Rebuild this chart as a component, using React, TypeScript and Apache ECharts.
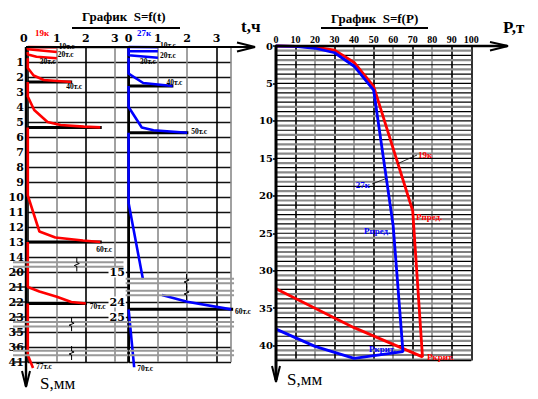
import React, { useEffect, useRef } from "react";
import * as echarts from "echarts";

// ================= S = f(t) =================
// broken settlement axis: row index -> settlement value (mm)
const ROW_IDX_19K = [0, 1, 2, 3, 4, 5, 6, 7, 8, 9, 10, 11, 12, 13, 14, 15, 16, 17, 18, 19, 20, 21];
const ROW_S_19K = [0, 1, 2, 3, 4, 5, 6, 7, 8, 9, 10, 11, 12, 13, 14, 20, 21, 22, 23, 35, 36, 41];
const ROW_IDX_27K = [0, 1, 2, 3, 4, 5, 6, 7, 8, 9, 10, 11, 12, 13, 14, 15, 17, 18, 19, 20, 21];
const ROW_S_27K = [0, 1, 2, 3, 4, 5, 6, 7, 8, 9, 10, 11, 12, 13, 14, 15, 24, 25, 35, 36, 41];
const SHOWN_S_27K = [15, 24, 25];

// pile 19к : load stages, time (h) and settlement (mm)
const LOADS_19K = ["10т.с", "20т.с", "30т.с", "40т.с", "50т.с", "60т.с", "70т.с", "77т.с"];
const T_19K: number[][] = [
  [0, 1],
  [0, 0, 1],
  [0, 0, 0.3, 1],
  [0, 0, 0.2, 0.55, 1.5],
  [0, 0, 0.22, 0.68, 1.13, 1.93, 2.5],
  [0, 0, 0.4, 0.95, 1.9, 2.5],
  [0, 0, 0.4, 1.0, 1.5, 2.0],
  [0, 0, 0.18],
];
const S_19K: number[][] = [
  [0, 0.02],
  [0.02, 0.15, 0.33],
  [0.33, 0.5, 0.65, 0.75],
  [0.75, 1.4, 1.9, 2.2, 2.33],
  [2.33, 3.3, 4.2, 5.0, 5.2, 5.31, 5.36],
  [5.36, 9.9, 12.3, 12.7, 12.9, 13.0],
  [13.0, 21.0, 21.3, 21.65, 22.0, 22.1],
  [22.1, 38.7, 41.4],
];
const HAS_LOADLINE_19K = [false, false, false, true, true, true, true, false];

// pile 27к
const LOADS_27K = ["10т.с", "20т.с", "30т.с", "40т.с", "50т.с", "60т.с", "70т.с"];
const T_27K: (number | null)[][] = [
  [0, 1],
  [0, 0, 1],
  [0, 0, 1],
  [0, 0, 0.5, 1.5],
  [0, 0, 0.45, 0.85, 2],
  [0, 0, 0.49, null, 1.14, 2, 3.5],
  [0, 0.19],
];
const S_27K: (number | null)[][] = [
  [0, 0.02],
  [0.02, 0.28, 0.28],
  [0.28, 0.55, 0.72],
  [0.72, 1.78, 2.4, 2.6],
  [2.6, 4.0, 5.37, 5.55, 5.72],
  [5.72, 10.4, 17.2, null, 21.9, 23.9, 24.49],
  [24.49, 41.35],
];
const HAS_LOADLINE_27K = [false, false, false, true, true, true, false];

// ================= S = f(P) =================
const P_19K = [0, 10, 20, 30, 40, 50, 70, 75, 40, 0];
const SP_19K = [0, 0.05, 0.15, 0.55, 2.2, 5.4, 22, 41.5, 37.6, 32.4];
const P_27K = [0, 10, 20, 30, 40, 50, 60, 65, 40, 20, 0];
const SP_27K = [0, 0.05, 0.3, 0.9, 2.7, 5.9, 24, 40.8, 41.7, 40.1, 37.8];

// ---------- styles / layout ----------
const SERIF = "'Liberation Serif', 'DejaVu Serif', serif";
const DJ = "'DejaVu Serif', 'Liberation Serif', serif";
const RED = "#ff0000";
const BLUE = "#0000ff";
const GRID_STEP_P = 0.625; // spacing of the fine horizontal grid of S=f(P), mm
const LABEL_OFF_19K: ([number, number] | null)[] = [[2, -1], [1, 3], [-17, 3], [-5, 5], null, [-4, 7], [4, 3], [3, -2]];
const LABEL_OFF_27K: ([number, number] | null)[] = [[2, -2], [2, 4], [-18, 4], [-6, -4], [4, -1], [4, 2], [3, 1]];

function makeRowMap(rows: number[], vals: number[]) {
  return (s: number) => {
    const n = vals.length;
    if (s >= vals[n - 1]) return rows[n - 1] + (s - vals[n - 1]);
    for (let i = 0; i < n - 1; i++) {
      if (s <= vals[i + 1]) return rows[i] + ((s - vals[i]) / (vals[i + 1] - vals[i])) * (rows[i + 1] - rows[i]);
    }
    return 0;
  };
}
const row19 = makeRowMap(ROW_IDX_19K, ROW_S_19K);
const row27 = makeRowMap(ROW_IDX_27K, ROW_S_27K);

function stageSeries(
  T: (number | null)[][], S: (number | null)[][], loads: string[], rowFn: (s: number) => number,
  axis: number, color: string, offs: ([number, number] | null)[], loadLine: boolean[]
) {
  const out: any[] = [];
  T.forEach((ts, k) => {
    const ss = S[k];
    const segs: number[][][] = [[]];
    ts.forEach((t, i) => {
      if (t === null || ss[i] === null) { segs.push([]); return; }
      segs[segs.length - 1].push([t as number, rowFn(ss[i] as number)]);
    });
    const lastT = ts[ts.length - 1] as number;
    const lastS = ss[ss.length - 1] as number;
    if (loadLine[k]) {
      out.push({
        type: "line", xAxisIndex: axis, yAxisIndex: axis, symbol: "none", silent: true, clip: false, z: 3,
        data: [[0, rowFn(lastS)], [lastT * 1.02, rowFn(lastS)]],
        lineStyle: { color: "#000", width: 3 },
      });
    }
    segs.forEach((seg, j) => {
      const isLast = j === segs.length - 1;
      const off = offs[k];
      out.push({
        type: "line", xAxisIndex: axis, yAxisIndex: axis, symbol: "none", silent: true, clip: false, z: 4,
        data: seg,
        lineStyle: { color, width: 2.6 },
        endLabel: isLast && off ? {
          show: true, formatter: loads[k], offset: off, distance: 0, color: "#000",
          fontSize: 7.5, fontWeight: "bold", fontFamily: SERIF,
        } : { show: false },
      });
    });
  });
  return out;
}

function breakSeries(axis: number, data: number[][]) {
  return {
    type: "custom", xAxisIndex: axis, yAxisIndex: axis, silent: true, z: 5, clip: false,
    data,
    renderItem: (_p: any, api: any) => {
      const row = api.value(0), t0 = api.value(1), t1 = api.value(2), tz = api.value(3);
      const a = api.coord([t0, row]);
      const b = api.coord([t1, row]);
      const d = 2.3;
      const children: any[] = [
        { type: "line", shape: { x1: a[0], y1: a[1] - d, x2: b[0], y2: b[1] - d }, style: { stroke: "#999", lineWidth: 2 } },
        { type: "line", shape: { x1: a[0], y1: a[1] + d, x2: b[0], y2: b[1] + d }, style: { stroke: "#999", lineWidth: 2 } },
      ];
      if (tz >= 0) {
        const z = api.coord([tz, row]);
        const x = z[0], y = z[1];
        children.push({
          type: "polyline",
          shape: { points: [[x, y - 7], [x, y - 2], [x + 2.5, y - 1], [x - 2.5, y + 1], [x, y + 2], [x, y + 7]] },
          style: { stroke: "#000", lineWidth: 1, fill: "none" },
        });
      }
      return { type: "group", children };
    },
  };
}

function buildOption(): any {
  const X19_MAX = 3.455;
  const X27_MAX = 3.5;
  const S_MAX_P = 42;
  const rowsLeftExt = ROW_IDX_19K.filter((r) => r >= 15).map((r) => [r]);
  const fineLines: number[][] = [];
  for (let k = 1; k * GRID_STEP_P < S_MAX_P; k++) fineLines.push([k * GRID_STEP_P, k % 2]);
  const rightRowColors = ROW_IDX_19K.map((r) => (r === 16 || r === 0 ? "transparent" : "#111"));

  const axisLabelBase = { color: "#000", fontWeight: "bold", fontFamily: DJ, fontSize: 11 };

  return {
    animation: false,
    backgroundColor: "#fff",
    grid: [
      { left: 27.8, top: 47, width: 100.2, height: 315, containLabel: false, outerBoundsMode: "none" },
      { left: 128.6, top: 47, width: 102.5, height: 315, containLabel: false, outerBoundsMode: "none" },
      { left: 276, top: 46, width: 195.3, height: 314.6, containLabel: false, outerBoundsMode: "none" },
    ],
    xAxis: [
      {
        gridIndex: 0, type: "value", min: 0, max: X19_MAX, interval: 1, position: "top",
        axisLine: { show: false }, axisTick: { show: false },
        axisLabel: {
          ...axisLabelBase, margin: 3, showMaxLabel: false,
          formatter: (v: number) => (v === 0 ? "{z|0}" : String(v)),
          rich: { z: { ...axisLabelBase, padding: [0, 8, 0, 0] } },
        },
        splitLine: { show: true, lineStyle: { color: ["#000", "#8a8a8a", "#000", "#8a8a8a", "#000"], width: 1.6 } },
      },
      {
        gridIndex: 1, type: "value", min: 0, max: X27_MAX, interval: 1, position: "top",
        axisLine: { show: false }, axisTick: { show: false },
        axisLabel: { ...axisLabelBase, margin: 3, showMaxLabel: false },
        splitLine: { show: true, lineStyle: { color: ["#000", "#8a8a8a", "#8a8a8a", "#000", "#8a8a8a"], width: 1.6 } },
      },
      {
        gridIndex: 2, type: "value", min: 0, max: 100, interval: 10, position: "top",
        axisLine: { show: false }, axisTick: { show: false },
        axisLabel: { color: "#000", fontWeight: "bold", fontFamily: SERIF, fontSize: 10, margin: 2 },
        splitLine: {
          show: true,
          lineStyle: { color: ["#000", "#000", "#8a8a8a", "#000", "#8a8a8a", "#000", "#8a8a8a", "#000", "#8a8a8a", "#000", "#000"], width: 1.6 },
        },
      },
    ],
    yAxis: [
      {
        gridIndex: 0, type: "value", inverse: true, min: 0, max: 21, interval: 1,
        axisLine: { show: false }, axisTick: { show: false },
        axisLabel: {
          ...axisLabelBase, margin: 4,
          formatter: (v: number) => (v === 0 ? "" : String(ROW_S_19K[ROW_IDX_19K.indexOf(v)] ?? "")),
        },
        splitLine: { show: true, lineStyle: { color: "#111", width: 1.4 } },
      },
      {
        gridIndex: 1, type: "value", inverse: true, min: 0, max: 21, interval: 1, offset: 1.3,
        axisLine: { show: true, lineStyle: { color: "#000", width: 2 } }, axisTick: { show: false },
        axisLabel: {
          ...axisLabelBase, margin: 1.5, backgroundColor: "#fff", padding: [0, 1, 0, 1],
          formatter: (v: number) => {
            const i = ROW_IDX_27K.indexOf(v);
            if (i < 0) return "";
            const s = ROW_S_27K[i];
            return SHOWN_S_27K.includes(s) ? String(s) : "";
          },
        },
        splitLine: { show: true, lineStyle: { color: rightRowColors, width: 1.4 } },
      },
      {
        gridIndex: 2, type: "value", inverse: true, min: 0, max: S_MAX_P, interval: 5,
        axisLine: { show: false },
        axisTick: { show: true, length: 3, inside: false, lineStyle: { color: "#000", width: 1.5 } },
        axisLabel: { ...axisLabelBase, fontSize: 10, margin: 3, showMaxLabel: false },
        splitLine: { show: false },
      },
    ],
    series: [
      // right chart fine horizontal grid (alternating grey / black)
      {
        type: "custom", xAxisIndex: 2, yAxisIndex: 2, silent: true, z: 1, data: fineLines,
        renderItem: (params: any, api: any) => {
          const v = api.value(0);
          const grey = api.value(1) === 1;
          const cs = params.coordSys;
          const y = api.coord([0, v])[1];
          return {
            type: "line",
            shape: { x1: cs.x, y1: y, x2: cs.x + cs.width, y2: y },
            style: { stroke: grey ? "#8a8a8a" : "#000", lineWidth: grey ? 2.2 : 1.2 },
          };
        },
      },
      // right chart bottom border
      {
        type: "custom", xAxisIndex: 2, yAxisIndex: 2, silent: true, z: 1, data: [[S_MAX_P]],
        renderItem: (params: any, api: any) => {
          const cs = params.coordSys;
          const y = api.coord([0, api.value(0)])[1];
          return { type: "line", shape: { x1: cs.x, y1: y, x2: cs.x + cs.width, y2: y }, style: { stroke: "#000", lineWidth: 1.5 } };
        },
      },
      // left-panel row line extensions under the labels after the first break
      {
        type: "custom", xAxisIndex: 0, yAxisIndex: 0, silent: true, z: 1, clip: false, data: rowsLeftExt,
        renderItem: (_p: any, api: any) => {
          const a = api.coord([-0.51, api.value(0)]);
          const b = api.coord([0, api.value(0)]);
          return { type: "line", shape: { x1: a[0], y1: a[1], x2: b[0], y2: b[1] }, style: { stroke: "#111", lineWidth: 1.4 } };
        },
      },
      breakSeries(0, [[(row19(14) + row19(20)) / 2, -0.51, 3.3, 1.69], [18.48, -0.51, X19_MAX, 1.51], [20.4, -0.51, X19_MAX, 1.51]]),
      breakSeries(1, [[15.6, -0.1, 3.6, 1.98], [16.4, -0.1, 3.6, 1.98], [18.48, 0, 3.6, -1], [20.4, 0, 3.6, -1]]),
      ...stageSeries(T_19K, S_19K, LOADS_19K, row19, 0, RED, LABEL_OFF_19K, HAS_LOADLINE_19K),
      ...stageSeries(T_27K, S_27K, LOADS_27K, row27, 1, BLUE, LABEL_OFF_27K, HAS_LOADLINE_27K),
      {
        type: "line", xAxisIndex: 2, yAxisIndex: 2, symbol: "none", silent: true, clip: false, z: 4,
        data: P_19K.map((p, i) => [p, SP_19K[i]]),
        lineStyle: { color: RED, width: 2.8 },
      },
      {
        type: "line", xAxisIndex: 2, yAxisIndex: 2, symbol: "none", silent: true, clip: false, z: 5,
        data: P_27K.map((p, i) => [p, SP_27K[i]]),
        lineStyle: { color: BLUE, width: 2.8 },
      },
    ],
    graphic: [
      // ----- left chart -----
      { type: "text", left: 82, top: 10, style: { text: "График  S=f(t)", font: `bold 13px ${SERIF}`, fill: "#000" }, z: 10 },
      { type: "line", shape: { x1: 72, y1: 28, x2: 180, y2: 28 }, style: { stroke: "#000", lineWidth: 2 }, z: 10 },
      { type: "text", x: 35, y: 33, style: { text: "19к", font: `bold 9px ${SERIF}`, fill: RED, verticalAlign: "middle" }, z: 10 },
      { type: "text", x: 137, y: 33, style: { text: "27к", font: `bold 9px ${SERIF}`, fill: BLUE, verticalAlign: "middle" }, z: 10 },
      { type: "text", x: 241, y: 26, style: { text: "t,ч", font: `bold 17px ${SERIF}`, fill: "#000", verticalAlign: "middle" }, z: 10 },
      { type: "line", shape: { x1: 26, y1: 47, x2: 254, y2: 47 }, style: { stroke: "#000", lineWidth: 2.2 }, z: 10 },
      { type: "polyline", shape: { points: [[237, 42.5], [255, 47], [237, 51.5]] }, style: { stroke: "#000", lineWidth: 2, fill: "none" }, z: 10 },
      { type: "line", shape: { x1: 26, y1: 47, x2: 26, y2: 386 }, style: { stroke: "#000", lineWidth: 2.4 }, z: 3 },
      { type: "polyline", shape: { points: [[22, 371], [26, 387], [30, 371]] }, style: { stroke: "#000", lineWidth: 2, fill: "none" }, z: 10 },
      { type: "text", x: 40, y: 383, style: { text: "S,мм", font: `17px ${SERIF}`, fill: "#000", verticalAlign: "middle" }, z: 10 },
      // ----- right chart -----
      { type: "text", left: 331, top: 12, style: { text: "График  S=f(P)", font: `bold 13px ${SERIF}`, fill: "#000" }, z: 10 },
      { type: "line", shape: { x1: 321, y1: 28, x2: 428, y2: 28 }, style: { stroke: "#000", lineWidth: 2 }, z: 10 },
      { type: "text", x: 503, y: 27, style: { text: "P,т", font: `bold 17px ${SERIF}`, fill: "#000", verticalAlign: "middle" }, z: 10 },
      { type: "line", shape: { x1: 275, y1: 46, x2: 507, y2: 46 }, style: { stroke: "#000", lineWidth: 2.6 }, z: 10 },
      { type: "polyline", shape: { points: [[490, 42], [508, 46], [490, 50.5]] }, style: { stroke: "#000", lineWidth: 2, fill: "none" }, z: 10 },
      { type: "line", shape: { x1: 276, y1: 46, x2: 276, y2: 380 }, style: { stroke: "#000", lineWidth: 3 }, z: 10 },
      { type: "polyline", shape: { points: [[272, 366], [276, 382], [280, 366]] }, style: { stroke: "#000", lineWidth: 2, fill: "none" }, z: 10 },
      { type: "text", x: 287, y: 379, style: { text: "S,мм", font: `17px ${SERIF}`, fill: "#000", verticalAlign: "middle" }, z: 10 },
      { type: "line", shape: { x1: 398, y1: 163.5, x2: 417, y2: 155 }, style: { stroke: "#000", lineWidth: 0.8 }, z: 10 },
      { type: "text", x: 418, y: 155, style: { text: "19к", font: `bold 9px ${SERIF}`, fill: RED, verticalAlign: "middle" }, z: 10 },
      { type: "line", shape: { x1: 372, y1: 184, x2: 386, y2: 178.5 }, style: { stroke: "#000", lineWidth: 0.8 }, z: 10 },
      { type: "text", x: 370, y: 185, style: { text: "27к", font: `bold 9px ${SERIF}`, fill: BLUE, align: "right", verticalAlign: "middle" }, z: 10 },
      { type: "text", x: 416, y: 217, style: { text: "Рпред.", font: `bold 9px ${SERIF}`, fill: RED, verticalAlign: "middle" }, z: 10 },
      { type: "text", x: 364, y: 231, style: { text: "Рпред.", font: `bold 9px ${SERIF}`, fill: BLUE, verticalAlign: "middle" }, z: 10 },
      { type: "text", x: 369, y: 349, style: { text: "Ркрит.", font: `bold 9px ${SERIF}`, fill: BLUE, verticalAlign: "middle" }, z: 10 },
      { type: "text", x: 427, y: 357, style: { text: "Ркрит.", font: `bold 9px ${SERIF}`, fill: RED, verticalAlign: "middle" }, z: 10 },
    ],
  };
}

export default function App() {
  const ref = useRef<HTMLDivElement>(null);
  useEffect(() => {
    if (!ref.current) return;
    const chart = echarts.init(ref.current, null, { renderer: "svg" });
    chart.setOption(buildOption());
    return () => chart.dispose();
  }, []);
  return (
    <div
      ref={ref}
      style={{ position: "fixed", left: 0, top: 0, width: 538, height: 399, background: "#fff" }}
    />
  );
}
